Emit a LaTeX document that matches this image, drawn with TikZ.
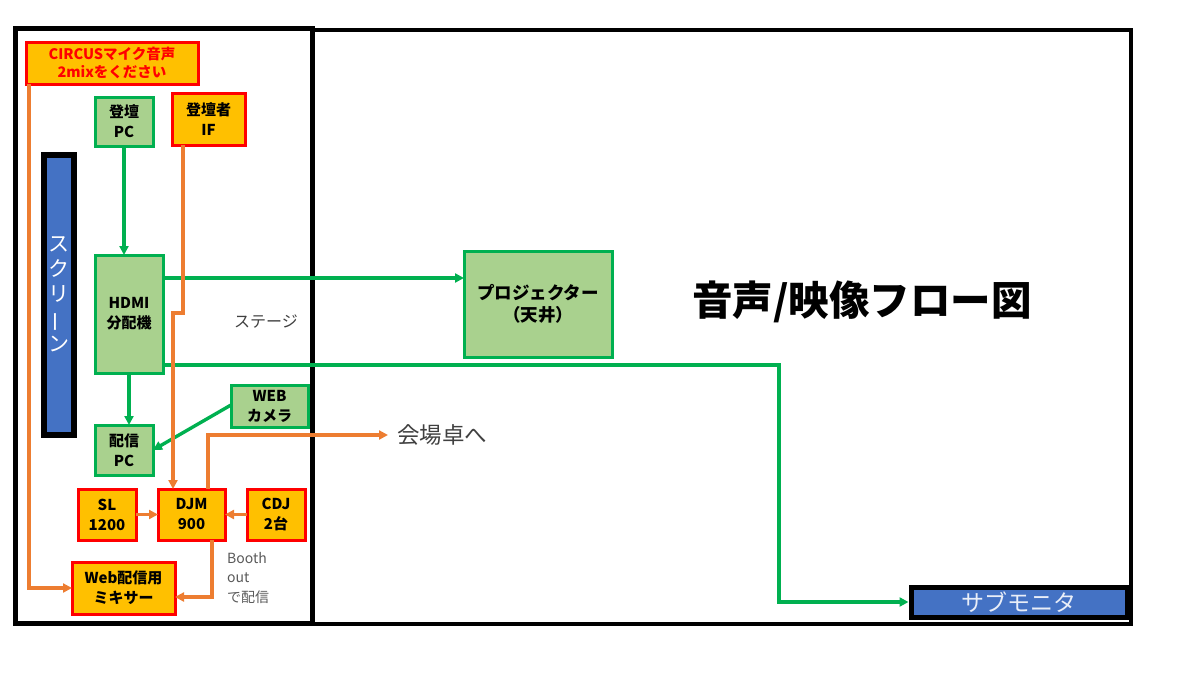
\documentclass[tikz,border=0pt]{standalone}
\usepackage{fontspec}
\setmainfont{Noto Sans CJK JP}
\usetikzlibrary{arrows.meta,calc}
\definecolor{gr}{HTML}{00B050}
\definecolor{lg}{HTML}{A9D18E}
\definecolor{og}{HTML}{FFC000}
\definecolor{ol}{HTML}{ED7D31}
\definecolor{bl}{HTML}{4472C4}
\definecolor{tg}{HTML}{404040}
\begin{document}
\begin{tikzpicture}[x=1pt,y=-1pt,
  box/.style={line width=3pt, inner sep=0pt, outer sep=0pt, align=center,
    font=\bfseries\fontsize{15}{20}\selectfont},
  gbox/.style={box, draw=gr, fill=lg},
  obox/.style={box, draw=red, fill=og},
  gline/.style={draw=gr, line width=3.4pt, -{Triangle[length=9pt,width=9pt]}},
  oline/.style={draw=ol, line width=3.4pt, -{Triangle[length=9pt,width=9pt]}},
  lbl/.style={text=tg, inner sep=0pt}]
\useasboundingbox (0,0) rectangle (1200,675);
% frames
\draw[line width=4pt] (312,30) rectangle (1131,624);
\draw[line width=5pt] (15,28) rectangle (312,623);
% nodes
\node[obox, minimum width=172pt, minimum height=42pt, text=red,
  font=\bfseries\fontsize{14.5}{18}\selectfont] (circus) at (112,63) {CIRCUSマイク音声\\2mixをください};
\node[gbox, minimum width=58pt, minimum height=49pt] (dpc) at (124,121.5) {登壇\\PC};
\node[obox, minimum width=73pt, minimum height=52pt] (dif) at (208.5,119) {登壇者\\IF};
\node[draw=black, fill=bl, line width=6pt, minimum width=30pt, minimum height=280pt,
  inner sep=0pt, text=white, align=center, font=\fontsize{21}{25}\selectfont] (screen) at (58.5,294.5)
  {ス\\ク\\リ\\\rotatebox[origin=c]{90}{ー}\\ン};
\node[gbox, minimum width=68pt, minimum height=118pt] (hdmi) at (129,314) {HDMI\\分配機};
\node[gbox, minimum width=77pt, minimum height=42pt] (wcam) at (269.5,406) {WEB\\カメラ};
\node[gbox, minimum width=58pt, minimum height=50pt] (hpc) at (124,450) {配信\\PC};
\node[obox, minimum width=58pt, minimum height=51pt] (sl) at (107,514.5) {SL\\1200};
\node[obox, minimum width=67pt, minimum height=51pt] (djm) at (191.5,514.5) {DJM\\900};
\node[obox, minimum width=58pt, minimum height=51pt] (cdj) at (276,514.5) {CDJ\\2台};
\node[obox, minimum width=103pt, minimum height=52pt] (mix) at (123.5,588) {Web配信用\\ミキサー};
\node[gbox, minimum width=148pt, minimum height=106pt, font=\bfseries\fontsize{17.5}{22}\selectfont] (proj) at (538,304) {プロジェクター\\（天井）};
\node[draw=black, fill=bl, line width=5pt, minimum width=216pt, minimum height=30pt,
  inner sep=0pt, text=white!88!bl, font=\fontsize{23}{26}\selectfont] (sub) at (1019,602) {サブモニタ};
% labels
\node[lbl, font=\fontsize{16}{19}\selectfont] (stage) at (266,322) {ステージ};
\node[lbl, anchor=north west, align=left, font=\fontsize{14}{19.5}\selectfont, text=black!65] (booth) at (227,552) {Booth\\out\\で配信};
\node[inner sep=0pt, font=\bfseries\fontsize{40.5}{46}\selectfont] (title) at (862,302) {音声/映像フロー図};
\node[lbl, anchor=west, font=\fontsize{22.5}{26}\selectfont] (kaijo) at (397,435) {会場卓へ};
% green connectors
\coordinate (h1) at ($(hdmi.north east)+(0,23)$);
\coordinate (h2) at ($(hdmi.south east)+(0,-8)$);
\draw[gline] (dpc.south) -- (dpc.south |- hdmi.north);
\draw[gline] (h1) -- (h1 -| proj.west);
\draw[gline] (h2) -- (779,365) |- (sub.west);
\draw[gline] (hdmi.south) -- (hdmi.south |- hpc.north);
\draw[gline] ($(wcam.west)+(0,-1)$) -- (hpc.east);
% orange connectors
\draw[oline] ($(circus.south west)+(3,0)$) |- (mix.west);
\draw[oline] ($(dif.south west)+(11,0)$) -- ++(0,168) -| ($(djm.north west)+(15,0)$);
\draw[oline] ($(djm.north west)+(50,0)$) |- ($(kaijo.west)+(-9,0)$);
\draw[oline] (sl.east) -- (djm.west);
\draw[oline] (cdj.west) -- (djm.east);
\draw[oline] ($(djm.south west)+(54,0)$) |- ($(mix.east)+(0,9)$);
\end{tikzpicture}
\end{document}
